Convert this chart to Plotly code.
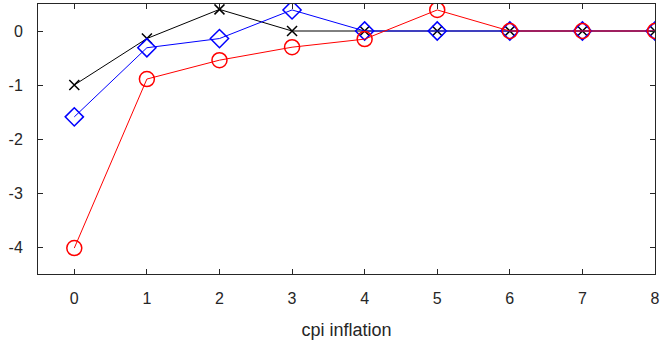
import plotly.graph_objects as go

x = [0, 1, 2, 3, 4, 5, 6, 7, 8]
black_vals = [-1.0, -0.14, 0.40, 0.0, 0.0, 0.0, 0.0, 0.0, 0.0]
blue_vals = [-1.59, -0.31, -0.14, 0.39, 0.0, 0.0, 0.0, 0.0, 0.0]
red_vals = [-4.02, -0.89, -0.54, -0.30, -0.15, 0.39, 0.0, 0.0, 0.0]
x_ticks = [0, 1, 2, 3, 4, 5, 6, 7, 8]
y_ticks = [0, -1, -2, -3, -4]

fig = go.Figure()
fig.add_trace(go.Scatter(x=x, y=black_vals, mode="lines+markers",
                         line=dict(color="black", width=1),
                         marker=dict(symbol="x-thin-open", size=10, color="black",
                                     line=dict(color="black", width=1.5))))
fig.add_trace(go.Scatter(x=x, y=blue_vals, mode="lines+markers",
                         line=dict(color="blue", width=1),
                         marker=dict(symbol="diamond-open", size=14, color="blue",
                                     line=dict(color="blue", width=1.5))))
fig.add_trace(go.Scatter(x=x, y=red_vals, mode="lines+markers",
                         line=dict(color="red", width=1),
                         marker=dict(symbol="circle-open", size=15, color="red",
                                     line=dict(color="red", width=1.5))))

font = "Liberation Sans, Arial"
axis_common = dict(showgrid=False, zeroline=False, showline=True, mirror="ticks",
                   linecolor="#262626", linewidth=1, ticks="inside", ticklen=5,
                   automargin=False,
                   tickcolor="#262626", tickfont=dict(family=font, size=16, color="#262626"))

fig.update_xaxes(range=[-0.5, 8], tickvals=x_ticks, ticktext=[str(t) for t in x_ticks],
                 ticklabelstandoff=10,
                 title=dict(text="cpi inflation", font=dict(family=font, size=18, color="#262626"),
                            standoff=20),
                 **axis_common)
fig.update_yaxes(range=[-4.5, 0.5], tickvals=y_ticks, ticktext=[str(t) for t in y_ticks],
                 ticklabelstandoff=11, **axis_common)

fig.update_layout(width=663, height=340, margin=dict(l=38, r=8, t=4, b=66),
                  plot_bgcolor="white", paper_bgcolor="white", showlegend=False)

fig.write_html("out.html")
